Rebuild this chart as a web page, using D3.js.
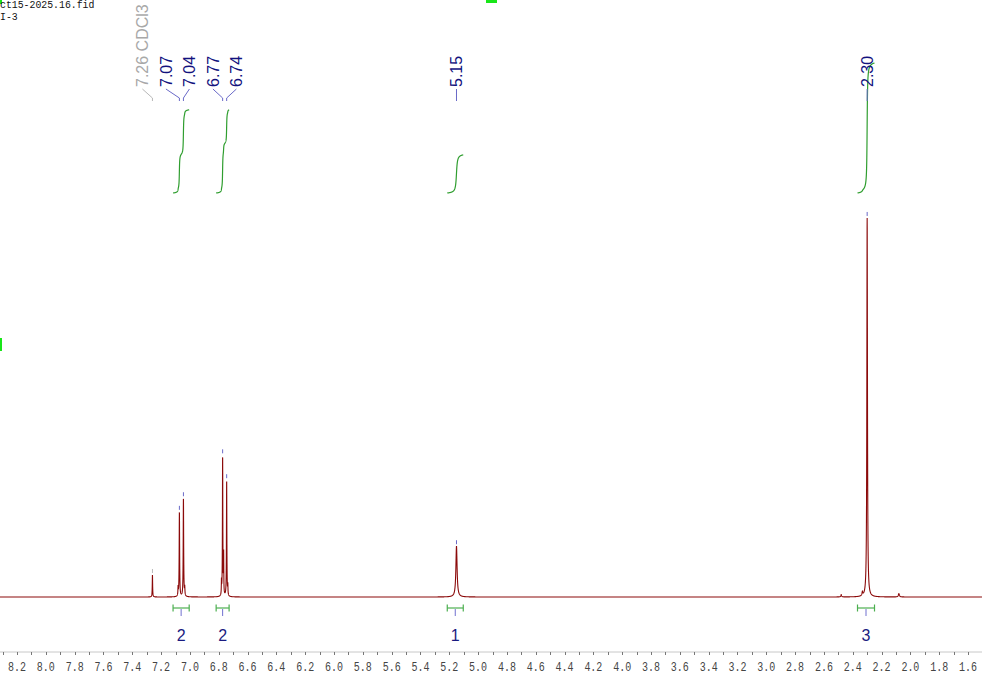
<!DOCTYPE html>
<html><head><meta charset="utf-8">
<script src="https://cdn.jsdelivr.net/npm/d3@7"></script>
<style>body{margin:0;background:#fff;overflow:hidden}svg{display:block}</style>
</head><body><svg id="c" width="982" height="674"></svg>
<script>
// ---- data ----
const fileLines = ["ct15-2025.16.fid", "I-3"];
const peakPpm    = [7.260, 7.082, 7.073, 7.045, 7.036, 6.781, 6.773, 6.766, 6.745, 6.737, 5.150, 2.480, 2.333, 2.300, 2.080];
const peakHeight = [5.8,   2.2,   22.3,  25.9,  2.2,   3.6,   36.9,  10.5,  30.6,  2.6,   13.4,  0.6,   1.0,   100,   0.9];
const peakWidth  = [0.0015,0.0015,0.0018,0.0018,0.0015,0.0012,0.0016,0.0012,0.0016,0.0012,0.0050,0.0030,0.0030,0.0025,0.0040];
const labelPpm   = [7.26, 7.073, 7.045, 6.773, 6.745, 5.15, 2.30];
const labelText  = ["7.26 CDCl3", "7.07", "7.04", "6.77", "6.74", "5.15", "2.30"];
const labelSolvent = [true, false, false, false, false, false, false];
const integralFrom = [7.117, 6.818, 5.214, 2.367];
const integralTo   = [7.005, 6.728, 5.103, 2.249];
const integralValue = [1.92, 1.92, 0.88, 3.00];
const integralLabel = ["2", "2", "1", "3"];
const tickLabels = ["8.2","8.0","7.8","7.6","7.4","7.2","7.0","6.8","6.6","6.4","6.2","6.0","5.8","5.6","5.4","5.2","5.0","4.8","4.6","4.4","4.2","4.0","3.8","3.6","3.4","3.2","3.0","2.8","2.6","2.4","2.2","2.0","1.8","1.6"];

// ---- scales ----
const svg = d3.select("#c");
const W = 982, H = 674;
const x = d3.scaleLinear().domain([8.318, 1.503]).range([0, W]);
const y = d3.scaleLinear().domain([0, 100]).range([597, 218]);
const yInt = d3.scaleLinear().domain([0, 3]).range([193, 63]);

function intensity(p) {
  let s = 0;
  for (let i = 0; i < peakPpm.length; i++) {
    const d = (p - peakPpm[i]) / peakWidth[i];
    s += peakHeight[i] / (1 + d * d);
  }
  return s;
}
const step = 0.0004;
const ppmGrid = d3.range(x.domain()[0], x.domain()[1], -step);
const spec = ppmGrid.map(p => [p, intensity(p)]);

// ---- markers ----
const green = "#19e619";
svg.append("rect").attr("x", 486).attr("y", 0).attr("width", 11).attr("height", 3).attr("fill", green);
svg.append("rect").attr("x", 0).attr("y", 338).attr("width", 2).attr("height", 13).attr("fill", green);
svg.append("rect").attr("x", 0).attr("y", 0).attr("width", 2).attr("height", 4).attr("fill", green);

// ---- header text ----
svg.selectAll("text.hdr").data(fileLines).enter().append("text")
  .attr("class", "hdr")
  .attr("x", 0)
  .attr("y", (d, i) => 8 + i * 12)
  .attr("textLength", d => d.length * 5.9)
  .attr("lengthAdjust", "spacingAndGlyphs")
  .style("font-family", "'Liberation Mono', monospace")
  .style("font-size", "11px")
  .attr("fill", "#111")
  .text(d => d);

// ---- axis ----
const axisY = 652;
svg.append("line").attr("x1", 0).attr("x2", W).attr("y1", axisY).attr("y2", axisY)
  .attr("stroke", "#c8c8c8").attr("stroke-width", 1);
const minorTicks = d3.range(8.3, 1.45, -0.1).map(v => +v.toFixed(1));
svg.selectAll("line.mt").data(minorTicks).enter().append("line")
  .attr("x1", d => Math.round(x(d)) + 0.5).attr("x2", d => Math.round(x(d)) + 0.5)
  .attr("y1", axisY).attr("y2", axisY + 3)
  .attr("stroke", "#777").attr("stroke-width", 1);
svg.selectAll("text.tl").data(tickLabels).enter().append("text")
  .attr("class", "tl")
  .attr("x", d => x(+d)).attr("y", 671)
  .attr("text-anchor", "middle")
  .attr("textLength", 18).attr("lengthAdjust", "spacingAndGlyphs")
  .style("font-family", "'Liberation Mono', monospace")
  .style("font-size", "12px")
  .attr("fill", "#444")
  .text(d => d);

// ---- integral curves ----
integralFrom.forEach((from, k) => {
  const to = integralTo[k];
  const pts = spec.filter(d => d[0] <= from && d[0] >= to);
  let cum = 0;
  const c = pts.map(d => { cum += d[1]; return [d[0], cum]; });
  const tot = cum;
  const line = d3.line().x(d => x(d[0])).y(d => yInt(d[1] / tot * integralValue[k]));
  svg.append("path").datum(c).attr("d", line)
    .attr("fill", "none").attr("stroke", "#2f9e2f").attr("stroke-width", 1.2);

  const x1 = x(from), x2 = x(to), xm = (x1 + x2) / 2;
  const g = svg.append("g");
  g.append("line").attr("x1", x1).attr("x2", x2).attr("y1", 608).attr("y2", 608).attr("stroke", "#4caf50").attr("stroke-width", 1.2);
  g.append("line").attr("x1", x1).attr("x2", x1).attr("y1", 604.5).attr("y2", 611.5).attr("stroke", "#4caf50").attr("stroke-width", 1.2);
  g.append("line").attr("x1", x2).attr("x2", x2).attr("y1", 604.5).attr("y2", 611.5).attr("stroke", "#4caf50").attr("stroke-width", 1.2);
  g.append("line").attr("x1", xm).attr("x2", xm).attr("y1", 609).attr("y2", 616).attr("stroke", "#7070d0").attr("stroke-width", 1);
  g.append("text").attr("x", xm).attr("y", 641).attr("text-anchor", "middle")
    .style("font-family", "'Liberation Sans', Arial, sans-serif").style("font-size", "16px")
    .attr("fill", "#1a1a80").text(integralLabel[k]);
});

// ---- spectrum ----
svg.append("path").datum(spec)
  .attr("d", d3.line().x(d => x(d[0])).y(d => y(d[1])))
  .attr("fill", "none").attr("stroke", "#8b0a0a").attr("stroke-width", 1.1);

// ---- peak labels ----
const gap = 23.5;
const px = labelPpm.map(p => x(p));
let groups = px.map((v, i) => ({ idx: [i] }));
const centerOf = g => d3.mean(g.idx, i => px[i]);
let changed = true;
while (changed) {
  changed = false;
  for (let i = 0; i < groups.length - 1; i++) {
    const a = groups[i], b = groups[i + 1];
    const aEnd = centerOf(a) + (a.idx.length - 1) * gap / 2;
    const bStart = centerOf(b) - (b.idx.length - 1) * gap / 2;
    if (bStart - aEnd < gap) {
      groups.splice(i, 2, { idx: a.idx.concat(b.idx) });
      changed = true; break;
    }
  }
}
const lx = new Array(px.length);
groups.forEach(g => {
  const c = centerOf(g) - 3.5 * (g.idx.length > 1 ? 1 : 0);
  g.idx.forEach((i, j) => { lx[i] = c + (j - (g.idx.length - 1) / 2) * gap; });
});

labelPpm.forEach((p, i) => {
  const col = labelSolvent[i] ? "#a8a8a8" : "#12127e";
  const lcol = labelSolvent[i] ? "#b8b8b8" : "#6a6ac8";
  svg.append("text")
    .attr("transform", `translate(${lx[i]},87) rotate(-90)`)
    .attr("dy", "0.35em")
    .style("font-family", "'Liberation Sans', Arial, sans-serif")
    .style("font-size", "16px")
    .attr("fill", col)
    .text(labelText[i]);
  const xp = px[i];
  svg.append("path")
    .attr("d", `M${lx[i]},89 L${xp},98 L${xp},101`)
    .attr("fill", "none").attr("stroke", lcol).attr("stroke-width", 1);
  const top = y(intensity(p));
  svg.append("line").attr("x1", xp).attr("x2", xp).attr("y1", top - 6).attr("y2", top - 2)
    .attr("stroke", lcol).attr("stroke-width", 1);
});
</script>
</body></html>
